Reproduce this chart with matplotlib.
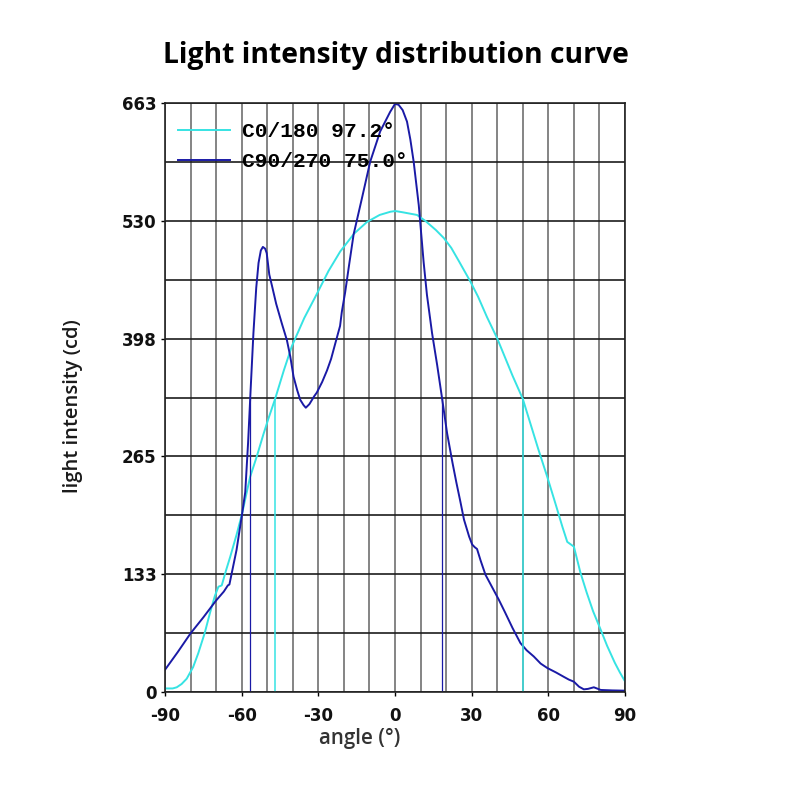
import numpy as np
import matplotlib
matplotlib.use('Agg')
import matplotlib.pyplot as plt

# C90/270 plane (dark blue)
c90_angle = [-90, -85, -80, -75, -70, -67, -65.4, -64.8, -62, -59.8, -58.6, -57.5,
             -56.5, -55.4, -54.3, -53.4, -52.5, -51.7, -50.8, -50.2, -49.2, -48.2,
             -46.5, -44.3, -42.3, -41, -39.7, -38.3, -37.1, -35.8, -34.9, -33.5,
             -31.6, -30.6, -28.5, -26.6, -25, -23.4, -21.5, -20.8, -19.5, -18, -16.2,
             -13, -9.7, -5.8, -1.9, 0, 1.4, 3, 4.7, 6, 7.3, 9.3, 11.2, 12.5, 14.5,
             16.5, 18.4, 20.4, 22.5, 24, 25.6, 27, 29, 30.2, 31.2, 32.1, 33.5, 35.4,
             38, 40.6, 43, 46, 49.1, 51.5, 54.3, 57, 59.6, 63, 66.1, 68, 70, 72, 73.9,
             75.5, 77.8, 79, 80.5, 85, 90]
c90_cd = [25, 45, 66, 84, 103, 113, 120, 121, 160, 201, 225, 280,
          340, 404, 455, 483, 497, 501, 499, 494, 470, 458,
          437, 415, 396, 378, 355, 340, 329, 323, 320, 324,
          333, 337, 349, 362, 375, 392, 412, 428, 450, 480, 515,
          555, 597, 631, 653, 662, 661, 655, 642, 622, 597, 548, 484, 447, 404,
          368, 331, 291, 258, 236, 214, 194, 175, 166, 163, 161, 148, 132,
          118, 104, 90, 72, 55, 47, 40, 32, 27, 22, 17, 14, 11.6, 6, 3,
          3.5, 5.3, 4, 2.3, 1.8, 1.5]

# C0/180 plane (cyan)
c0_angle = [-90, -87, -85.4, -83.5, -81.5, -79, -77, -74.5, -72.4, -70.5, -69.1, -67.8,
            -66, -64.5, -62, -59.9, -56.7, -54.1, -51.5, -49.5, -46.9, -43.5, -40.4,
            -35.5, -30.6, -26, -21.4, -16, -11, -6, -1.8, 0.1, 3, 8.6, 12, 16, 19.1,
            22, 25, 29.5, 32.5, 36, 40, 43, 46, 50, 53, 56, 59.6, 63, 65.5, 67.4, 70,
            72.5, 75, 77.5, 80.5, 83, 86, 88, 90]
c0_cd = [4, 4, 5.3, 9, 15, 28, 43.5, 66, 89, 108, 118.5, 120,
         138, 152, 177, 200, 242, 265, 290, 308, 330, 362, 389,
         421, 448, 474, 496, 516, 529, 537, 540.6, 541.4, 540, 537, 530, 520, 511,
         500, 485, 462, 445, 422, 398, 377, 356, 330, 302, 274, 242, 210, 186, 169, 163.6,
         135, 112, 91, 70, 52, 33, 22, 12]

# beam angle limits (half of peak intensity)
c0_beam = [-47.0, 50.0]
c90_beam = [-56.8, 18.2]
i_max = 663
y_labels = ['0', '133', '265', '398', '530', '663']
x_labels = ['-90', '-60', '-30', '0', '30', '60', '90']

cyan = '#36e3e3'
navy = '#1a1aa6'

fig = plt.figure(figsize=(8, 8), dpi=100)
ax = fig.add_axes([165 / 800, 1 - 692 / 800, 460 / 800, 589 / 800])

ax.plot(c0_angle, c0_cd, color=cyan, lw=1.4, label='C0/180 97.2°')
ax.plot(c90_angle, c90_cd, color=navy, lw=1.4, label='C90/270 75.0°')
ax.vlines(c0_beam, 0, i_max / 2, color=cyan, lw=1.1)
ax.vlines(c90_beam, 0, i_max / 2, color=navy, lw=0.9)

ax.set_xlim(-90, 90)
ax.set_ylim(0, i_max)
ax.set_xticks(np.arange(-90, 91, 30))
ax.set_xticklabels(x_labels)
ax.set_xticks(np.arange(-90, 91, 10), minor=True)
ax.set_yticks(np.linspace(0, i_max, 6))
ax.set_yticklabels(y_labels)
ax.set_yticks(np.linspace(0, i_max, 11), minor=True)
ax.grid(which='both', axis='x', color='#707070', lw=1.2)
ax.grid(which='both', axis='y', color='#1c1c1c', lw=1.2)
ax.set_axisbelow(True)
ax.tick_params(which='minor', length=0)
ax.tick_params(which='major', length=3, width=1, direction='out', pad=3)
ax.tick_params(axis='x', which='major', pad=8)
for lab in ax.get_xticklabels() + ax.get_yticklabels():
    lab.set_fontfamily('DejaVu Sans')
    lab.set_fontweight('bold')
    lab.set_fontsize(12)
    lab.set_color('#111111')
for s in ax.spines.values():
    s.set_color('#222222')
    s.set_linewidth(1.2)

ax.legend(loc='upper left', bbox_to_anchor=(0.028, 0.967), frameon=False,
          prop={'family': 'Liberation Mono', 'weight': 'bold', 'size': 15.3},
          handlelength=2.45, handletextpad=0.56, labelspacing=0.51,
          borderpad=0, borderaxespad=0)

fig.text(396 / 800, 1 - 63 / 800, 'Light intensity distribution curve',
         family='Open Sans', weight='bold', fontsize=20.3, ha='center', va='baseline')
fig.text(73 / 800, 1 - 406 / 800, 'light intensity (cd)', family='Open Sans',
         weight='semibold', fontsize=14.5, rotation=90, ha='center', va='center',
         color='#1a1a1a')
fig.text(360 / 800, 1 - 738 / 800, 'angle (°)', family='Open Sans',
         weight='semibold', fontsize=14.8, ha='center', va='center', color='#333333')

fig.savefig('out.png', dpi=100)
